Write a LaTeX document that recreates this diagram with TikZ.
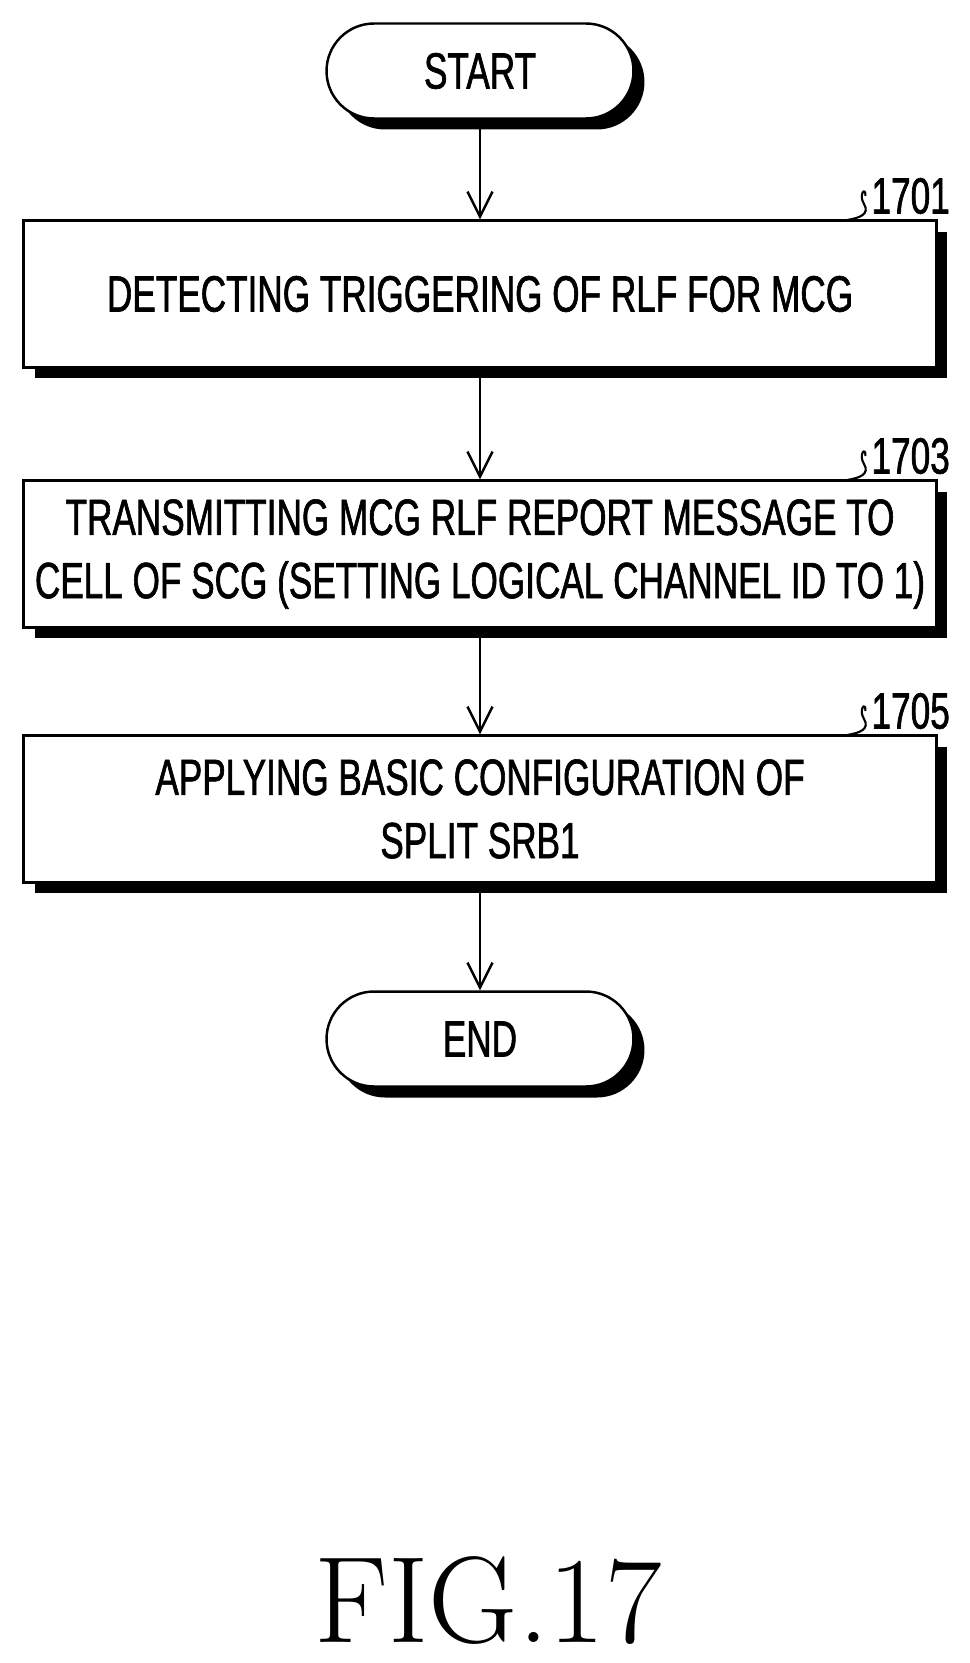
\documentclass[tikz,border=0pt]{standalone}
\usepackage{fontspec}
\setsansfont{Liberation Sans}[FakeStretch=0.69,FakeBold=1.2]
\usetikzlibrary{arrows.meta,shadows}
\tikzset{
	procbox/.style={draw, line width=1.4pt, fill=white, minimum width=18.26cm, minimum height=2.94cm,
		align=center, font=\sffamily\fontsize{29}{36}\selectfont,
		drop shadow={shadow xshift=0.22cm, shadow yshift=-0.22cm, opacity=1, fill=black}},
	term/.style={procbox, minimum width=6.14cm, minimum height=1.9cm, rounded corners=0.95cm},
	flow/.style={-{Straight Barb[length=5mm,width=5mm,line width=1.4pt]}, line width=1.4pt},
	ref/.style={font=\sffamily\fontsize{29}{36}\selectfont, anchor=east}
}
\begin{document}
\begin{tikzpicture}[x=0.02cm,y=-0.02cm]
	\useasboundingbox (0,0) rectangle (970,1663);
	% Nodes
	\node[term] (start) at (480,71) {START};
	\node[procbox] (s1701) at (480,294) {DETECTING TRIGGERING OF RLF FOR MCG};
	\node[procbox] (s1703) at (480,554) {TRANSMITTING MCG RLF REPORT MESSAGE TO\\CELL OF SCG (SETTING LOGICAL CHANNEL ID TO 1)};
	\node[procbox] (s1705) at (480,809) {APPLYING BASIC CONFIGURATION OF\\SPLIT SRB1};
	\node[term] (end) at (480,1039) {END};
	% Arrows
	\draw[flow] (start) -- (s1701);
	\draw[flow] (s1701) -- (s1703);
	\draw[flow] (s1703) -- (s1705);
	\draw[flow] (s1705) -- (end);
	% Reference numerals
	\foreach \n/\y in {1701/220, 1703/480, 1705/735} {
		\coordinate (t\n) at (847,\y);
		\node[ref] (l\n) at (956,\y-24) {\n};
		\draw[line width=1.2pt] (t\n) .. controls (860,\y-2) and (870,\y-6) .. (864,\y-16)
			.. controls (858,\y-26) and (866,\y-34) .. (l\n.west);
	}
	% Caption
	\node[font=\fontsize{70}{78}\selectfont] (fig) at (488,1600) {FIG.17};
\end{tikzpicture}
\end{document}
